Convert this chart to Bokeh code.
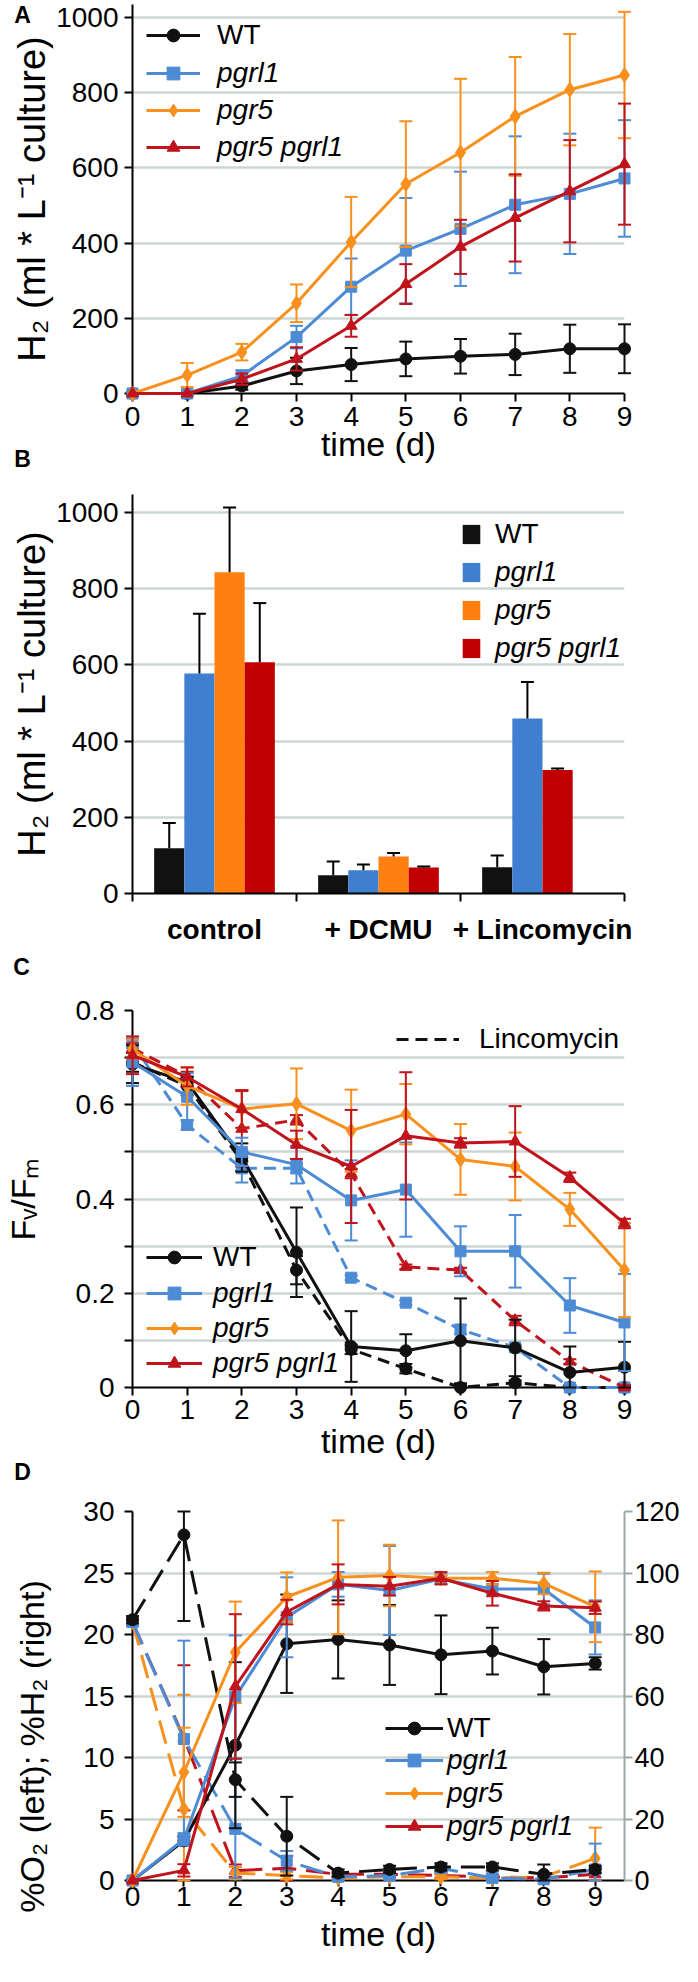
import math
from bokeh.plotting import figure
from bokeh.models import Range1d, FixedTicker, Legend, LegendItem, LinearAxis
from bokeh.core.properties import value
from bokeh.layouts import column
from bokeh.embed import file_html
from bokeh.resources import INLINE

FONT = "Liberation Sans"
GRID = "#CED6D4"

days = [0, 1, 2, 3, 4, 5, 6, 7, 8, 9]
names = ["WT", "pgrl1", "pgr5", "pgr5 pgrl1"]
line_colors = ["#111111", "#4D8BD5", "#F8901E", "#C0131B"]
bar_colors = ["#111111", "#3F7FCF", "#FF7F10", "#C00000"]
markers = ["circle", "square", "diamond", "triangle"]
marker_sizes = [12, 11, 15, 12]

# ---------- Panel A: H2 (ml * L-1 culture) vs time ----------
a_wt = [0, 0, 20, 60, 77, 92, 99, 104, 119, 119]
a_wt_err = [0, 0, 10, 35, 44, 46, 46, 55, 64, 65]
a_pgrl1 = [0, 0, 47, 150, 284, 380, 438, 502, 531, 572]
a_pgrl1_err = [0, 0, 15, 30, 75, 140, 152, 182, 160, 155]
a_pgr5 = [0, 49, 110, 240, 403, 557, 641, 737, 808, 847]
a_pgr5_err = [0, 32, 22, 50, 120, 167, 196, 158, 148, 168]
a_dbl = [0, 0, 38, 92, 180, 291, 390, 467, 538, 610]
a_dbl_err = [0, 0, 15, 31, 29, 53, 72, 116, 136, 161]
a_yticks = [0, 200, 400, 600, 800, 1000]

# ---------- Panel B: bars ----------
b_cats = ["control", "+ DCMU", "+ Lincomycin"]
b_wt = [119, 48, 69]
b_wt_err = [66, 36, 31]
b_pgrl1 = [577, 61, 459]
b_pgrl1_err = [157, 15, 96]
b_pgr5 = [843, 97, None]
b_pgr5_err = [170, 9, None]
b_dbl = [607, 68, 324]
b_dbl_err = [155, 3, 4]

# ---------- Panel C: Fv/Fm ----------
c_wt = [0.686, 0.648, 0.488, 0.287, 0.087, 0.078, 0.099, 0.084, 0.032, 0.043]
c_wt_err = [0.04, 0.01, 0.03, 0.095, 0.075, 0.035, 0.09, 0.06, 0.055, 0.054]
c_pgrl1 = [0.69, 0.617, 0.50, 0.473, 0.397, 0.42, 0.289, 0.289, 0.174, 0.138]
c_pgrl1_err = [0.05, 0.05, 0.03, 0.04, 0.085, 0.1, 0.053, 0.077, 0.058, 0.103]
c_pgr5 = [0.718, 0.64, 0.591, 0.602, 0.545, 0.58, 0.484, 0.469, 0.378, 0.249]
c_pgr5_err = [0.02, 0.04, 0.04, 0.075, 0.087, 0.064, 0.075, 0.072, 0.035, 0.1]
c_dbl = [0.705, 0.659, 0.591, 0.515, 0.469, 0.534, 0.519, 0.522, 0.446, 0.348]
c_dbl_err = [0.04, 0.02, 0.04, 0.03, 0.12, 0.135, 0.01, 0.075, 0.01, 0.01]
c_wt_lin = [0.69, 0.64, 0.48, 0.249, 0.081, 0.04, 0.0, 0.01, 0.0, 0.0]
c_wt_lin_err = [0.02, 0.02, 0.02, 0.03, 0.01, 0.01, 0.005, 0.005, 0.005, 0.005]
c_pgrl1_lin = [0.73, 0.557, 0.465, 0.465, 0.233, 0.18, 0.123, 0.085, 0.0, 0.0]
c_pgrl1_lin_err = [0.01, 0.01, 0.03, 0.01, 0.005, 0.005, 0.01, 0.005, 0.005, 0.005]
c_dbl_lin = [0.72, 0.66, 0.549, 0.568, 0.454, 0.256, 0.249, 0.142, 0.055, 0.0]
c_dbl_lin_err = [0.01, 0.01, 0.08, 0.01, 0.01, 0.005, 0.005, 0.01, 0.005, 0.005]
c_yticks = [0, 0.2, 0.4, 0.6, 0.8]
c_yminor = [0.1, 0.3, 0.5, 0.7]

# ---------- Panel D: %O2 (left, dashed) and %H2 (right, solid) ----------
d_o2_wt = [21.2, 28.1, 8.2, 3.6, 0.6, 0.9, 1.1, 1.1, 0.5, 0.9]
d_o2_wt_err = [0.3, 7.0, 1.4, 3.2, 0.3, 0.3, 0.3, 0.3, 0.8, 0.3]
d_o2_pgrl1 = [21.0, 11.5, 4.2, 1.6, 0.3, 0.4, 1.0, 0.2, 0.1, 0.9]
d_o2_pgrl1_err = [0.3, 8.0, 4.0, 0.8, 0.2, 0.2, 0.3, 0.2, 0.1, 2.1]
d_o2_pgr5 = [21.0, 5.8, 0.6, 0.4, 0.2, 0.3, 0.3, 0.2, 0.3, 1.8]
d_o2_pgr5_err = [0.3, 9.3, 0.5, 0.3, 0.2, 0.2, 0.2, 0.2, 0.2, 2.5]
d_o2_dbl = [21.0, 11.6, 0.8, 1.0, 0.5, 0.5, 0.4, 0.3, 0.2, 0.5]
d_o2_dbl_err = [0.3, 5.9, 0.5, 1.0, 0.2, 0.2, 0.2, 0.2, 0.2, 0.5]
d_h2_wt = [0, 12.9, 44.0, 77.0, 78.4, 76.6, 73.4, 74.6, 69.5, 70.6]
d_h2_wt_err = [0, 1.5, 27, 16, 12.7, 13, 12.8, 7.6, 9, 2]
d_h2_pgrl1 = [0, 13.4, 59.7, 85.6, 96.3, 94.3, 98.0, 94.8, 94.8, 82.3]
d_h2_pgrl1_err = [0, 2, 20, 13, 4, 14.5, 1.5, 1.5, 5, 8.8]
d_h2_pgr5 = [0, 35.2, 74.2, 92.2, 98.6, 99.2, 98.3, 98.3, 96.6, 89.0]
d_h2_pgr5_err = [0, 14.5, 16.5, 8, 18.5, 10, 1, 2, 3.5, 11.5]
d_h2_dbl = [0, 3.3, 63.1, 87.3, 96.3, 95.7, 98.3, 93.4, 89.3, 88.7]
d_h2_dbl_err = [0, 2, 23.5, 4, 6.5, 3, 2, 4, 1.5, 2]
d_left_ticks = [0, 5, 10, 15, 20, 25, 30]
d_right_ticks = [0, 20, 40, 60, 80, 100, 120]


def style_axis(ax, size="28px"):
    ax.axis_line_width = 2
    ax.axis_line_color = "black"
    ax.major_tick_line_width = 2
    ax.major_tick_line_color = "black"
    ax.major_tick_out = 8
    ax.major_tick_in = 0
    ax.minor_tick_line_color = None
    ax.major_label_text_font = FONT
    ax.major_label_text_font_size = size
    ax.major_label_text_color = "black"
    ax.axis_label_text_font = FONT
    ax.axis_label_text_font_style = "normal"
    ax.axis_label_text_font_size = "34px"
    ax.axis_label_text_color = "black"


def base_fig(height, x_range, y_range, top, bottom, right):
    p = figure(width=682, height=height, x_range=x_range, y_range=y_range,
               output_backend="svg", toolbar_location=None,
               min_border_left=120, min_border_right=right,
               min_border_top=top, min_border_bottom=bottom)
    p.outline_line_color = None
    p.background_fill_color = "white"
    p.xgrid.grid_line_color = None
    p.ygrid.grid_line_color = GRID
    p.ygrid.grid_line_width = 2.5
    for ax in p.axis:
        style_axis(ax)
    return p


def errorbars(p, xs, ys, errs, color, top=None, yname="default", cap=13):
    x = [a for a, e in zip(xs, errs) if e]
    lo = [max(v - e, 0) for v, e in zip(ys, errs) if e]
    hi = [(min(v + e, top) if top is not None else v + e) for v, e in zip(ys, errs) if e]
    p.segment(x0=x, y0=lo, x1=x, y1=hi, line_color=color, line_width=2,
              level="overlay", y_range_name=yname)
    p.scatter(x=x + x, y=lo + hi, marker="dash", size=cap, line_color=color,
              line_width=2, level="overlay", y_range_name=yname)


def series(p, xs, ys, k, dash="solid", yname="default"):
    l = p.line(xs, ys, line_color=line_colors[k], line_width=3, line_dash=dash,
               level="overlay", y_range_name=yname)
    m = p.scatter(xs, ys, marker=markers[k], size=marker_sizes[k],
                  fill_color=line_colors[k], line_color=line_colors[k],
                  level="overlay", y_range_name=yname)
    return l, m


def legend(p, items, x, y, italic, glyph_w, standoff, spacing, glyph_h=32, pad=0):
    lg = Legend(items=items, location=(x, y), orientation="vertical",
                glyph_width=glyph_w, glyph_height=glyph_h, label_height=32,
                label_width=150,
                label_standoff=standoff, spacing=spacing, padding=pad, margin=0,
                border_line_color=None, background_fill_alpha=0,
                label_text_font=FONT, label_text_font_size="28px",
                label_text_font_style="italic" if italic else "normal",
                label_text_color="black")
    p.add_layout(lg)


def free_text(p, x, y, text, size, bold=False, angle=0.0):
    # text glyph at overlay level so that it may sit outside the plot frame
    p.text(x=[x], y=[y], text=[text], angle=angle,
           text_font=value(FONT), text_font_style="bold" if bold else "normal",
           text_font_size=size, text_align="center", text_baseline="middle",
           text_color="black", level="overlay")


# ======================= Panel A =======================
pa = base_fig(472, Range1d(0, 9), Range1d(0, 1034.6), 4, 79, 52)
pa.xaxis.ticker = FixedTicker(ticks=days)
pa.yaxis.ticker = FixedTicker(ticks=a_yticks)
pa.xaxis.major_label_standoff = 5
pa.yaxis.major_label_standoff = 6
pa.xaxis.axis_label = "time (d)"
pa.xaxis.axis_label_standoff = -4
pa.yaxis.axis_label = "H\u2082 (ml * L\u207b\u00b9 culture)"
pa.yaxis.axis_label_text_font_size = "38px"
pa.yaxis.axis_label_standoff = 0
a_sets = [(a_wt, a_wt_err), (a_pgrl1, a_pgrl1_err), (a_pgr5, a_pgr5_err), (a_dbl, a_dbl_err)]
a_r = []
for k, (v, e) in enumerate(a_sets):
    errorbars(pa, days, v, e, line_colors[k])
    a_r.append(series(pa, days, v, k))
legend(pa, [LegendItem(label=names[0], renderers=list(a_r[0]))], 14, 342, False, 54, 17, 5)
legend(pa, [LegendItem(label=names[k], renderers=list(a_r[k])) for k in (1, 2, 3)],
       14, 230, True, 54, 17, 5)
free_text(pa, -2.01, 1008, "A", "23px", bold=True)
free_text(pa, -2.01, -173, "B", "23px", bold=True)

# ======================= Panel B =======================
pb = base_fig(514, Range1d(0, 3), Range1d(0, 1047), 22, 93, 56)
pb.yaxis.ticker = FixedTicker(ticks=a_yticks)
pb.yaxis.major_label_standoff = 6
pb.yaxis.axis_label = "H\u2082 (ml * L\u207b\u00b9 culture)"
pb.yaxis.axis_label_text_font_size = "38px"
pb.yaxis.axis_label_standoff = 0
pb.xaxis.ticker = FixedTicker(ticks=[0.5, 1.5, 2.5], minor_ticks=[0, 1, 2, 3])
pb.xaxis.major_label_overrides = {0.5: b_cats[0], 1.5: b_cats[1], 2.5: b_cats[2]}
pb.xaxis.major_label_text_font_style = "bold"
pb.xaxis.major_tick_out = 0
pb.xaxis.major_tick_line_color = None
pb.xaxis.minor_tick_line_color = "black"
pb.xaxis.minor_tick_line_width = 2
pb.xaxis.minor_tick_out = 8
pb.xaxis.minor_tick_in = 0
pb.xaxis.major_label_standoff = 12
BAR_W = 0.184
b_sets = [(b_wt, b_wt_err), (b_pgrl1, b_pgrl1_err), (b_pgr5, b_pgr5_err), (b_dbl, b_dbl_err)]
slot_of = {}
for ci in range(len(b_cats)):
    present = [k for k in range(4) if b_sets[k][0][ci] is not None]
    for slot, k in enumerate(present):
        slot_of[(k, ci)] = slot
b_r = []
for k, (v, e) in enumerate(b_sets):
    xs = [ci + 0.5 + (slot_of[(k, ci)] - 1.5) * BAR_W for ci in range(len(b_cats)) if v[ci] is not None]
    tops = [t for t in v if t is not None]
    errs = [x for x in e if x is not None]
    r = pb.vbar(x=xs, top=tops, bottom=0, width=BAR_W, fill_color=bar_colors[k], line_color=None)
    b_r.append(r)
    hi = [t + er for t, er in zip(tops, errs)]
    pb.segment(x0=xs, y0=tops, x1=xs, y1=hi, line_color="black", line_width=2)
    pb.scatter(x=xs, y=hi, marker="dash", size=13, line_color="black", line_width=2)
legend(pb, [LegendItem(label=names[0], renderers=[b_r[0]])], 328, 343, False, 22, 13, 6, glyph_h=24, pad=5)
legend(pb, [LegendItem(label=names[k], renderers=[b_r[k]]) for k in (1, 2, 3)],
       328, 229, True, 22, 13, 6, glyph_h=24, pad=5)
free_text(pb, -0.676, -194, "C", "23px", bold=True)

# ======================= Panel C =======================
pc = base_fig(501, Range1d(0, 9), Range1d(0, 0.8), 24, 100, 52)
pc.xaxis.ticker = FixedTicker(ticks=days)
pc.yaxis.ticker = FixedTicker(ticks=c_yticks, minor_ticks=c_yminor)
pc.yaxis.minor_tick_line_color = "black"
pc.yaxis.minor_tick_line_width = 2
pc.yaxis.minor_tick_out = 8
pc.yaxis.minor_tick_in = 0
pc.ygrid.minor_grid_line_color = GRID
pc.ygrid.minor_grid_line_width = 2.5
pc.xaxis.major_label_standoff = 4
pc.yaxis.major_label_standoff = 10
pc.xaxis.axis_label = "time (d)"
pc.xaxis.axis_label_standoff = 0
pc.yaxis.axis_label = "F\u1d65/F\u2098"
pc.yaxis.axis_label_standoff = 31
c_lin = [(0, c_wt_lin, c_wt_lin_err), (1, c_pgrl1_lin, c_pgrl1_lin_err), (3, c_dbl_lin, c_dbl_lin_err)]
lin_r = {}
for k, v, e in c_lin:
    errorbars(pc, days, v, e, line_colors[k])
    lin_r[k] = series(pc, days, v, k, dash="12 7")
c_sets = [(c_wt, c_wt_err), (c_pgrl1, c_pgrl1_err), (c_pgr5, c_pgr5_err), (c_dbl, c_dbl_err)]
c_r = []
for k, (v, e) in enumerate(c_sets):
    errorbars(pc, days, v, e, line_colors[k])
    c_r.append(series(pc, days, v, k))
legend(pc, [LegendItem(label=names[0], renderers=list(c_r[0]))], 14, 114, False, 56, 11, 3)
legend(pc, [LegendItem(label=names[k], renderers=list(c_r[k])) for k in (1, 2, 3)],
       14, 8, True, 56, 11, 3)
legend(pc, [LegendItem(label="Lincomycin", renderers=[lin_r[0][0]])], 264, 332, False, 63, 20, 3)
free_text(pc, -2.01, -0.180, "D", "23px", bold=True)

# ======================= Panel D =======================
pd_ = base_fig(476, Range1d(0, 9.57), Range1d(0, 30), 24, 83, 53)
pd_.extra_y_ranges = {"h2": Range1d(0, 120)}
right_ax = LinearAxis(y_range_name="h2", ticker=FixedTicker(ticks=d_right_ticks))
style_axis(right_ax, size="27px")
right_ax.axis_line_color = "#9DA7A7"
right_ax.major_tick_line_color = "#9DA7A7"
right_ax.major_label_standoff = 2
pd_.add_layout(right_ax, "right")
pd_.xaxis.ticker = FixedTicker(ticks=days)
pd_.yaxis[0].ticker = FixedTicker(ticks=d_left_ticks)
pd_.xaxis.major_tick_out = 6
pd_.xaxis.major_label_standoff = 0
pd_.xaxis.axis_label = "time (d)"
pd_.xaxis.axis_label_standoff = 6
pd_.yaxis[0].major_label_standoff = 10
d_o2 = [(d_o2_wt, d_o2_wt_err), (d_o2_pgrl1, d_o2_pgrl1_err), (d_o2_pgr5, d_o2_pgr5_err), (d_o2_dbl, d_o2_dbl_err)]
d_h2 = [(d_h2_wt, d_h2_wt_err), (d_h2_pgrl1, d_h2_pgrl1_err), (d_h2_pgr5, d_h2_pgr5_err), (d_h2_dbl, d_h2_dbl_err)]
for k in (3, 2, 1, 0):
    v, e = d_o2[k]
    errorbars(pd_, days, v, e, line_colors[k], top=30)
    series(pd_, days, v, k, dash="24 10")
d_r = {}
for k in (0, 1, 2, 3):
    v, e = d_h2[k]
    errorbars(pd_, days, v, e, line_colors[k], top=120, yname="h2")
    d_r[k] = series(pd_, days, v, k, yname="h2")
legend(pd_, [LegendItem(label=names[0], renderers=list(d_r[0]))], 253, 136, False, 58, 4, 1)
legend(pd_, [LegendItem(label=names[k], renderers=list(d_r[k])) for k in (1, 2, 3)],
       253, 38, True, 58, 4, 1)
free_text(pd_, -1.96, 10.9, "%O\u2082 (left); %H\u2082 (right)", "34px", angle=math.pi / 2)

layout = column(pa, pb, pc, pd_, spacing=0)
open("out.html", "w").write(file_html(layout, INLINE))
